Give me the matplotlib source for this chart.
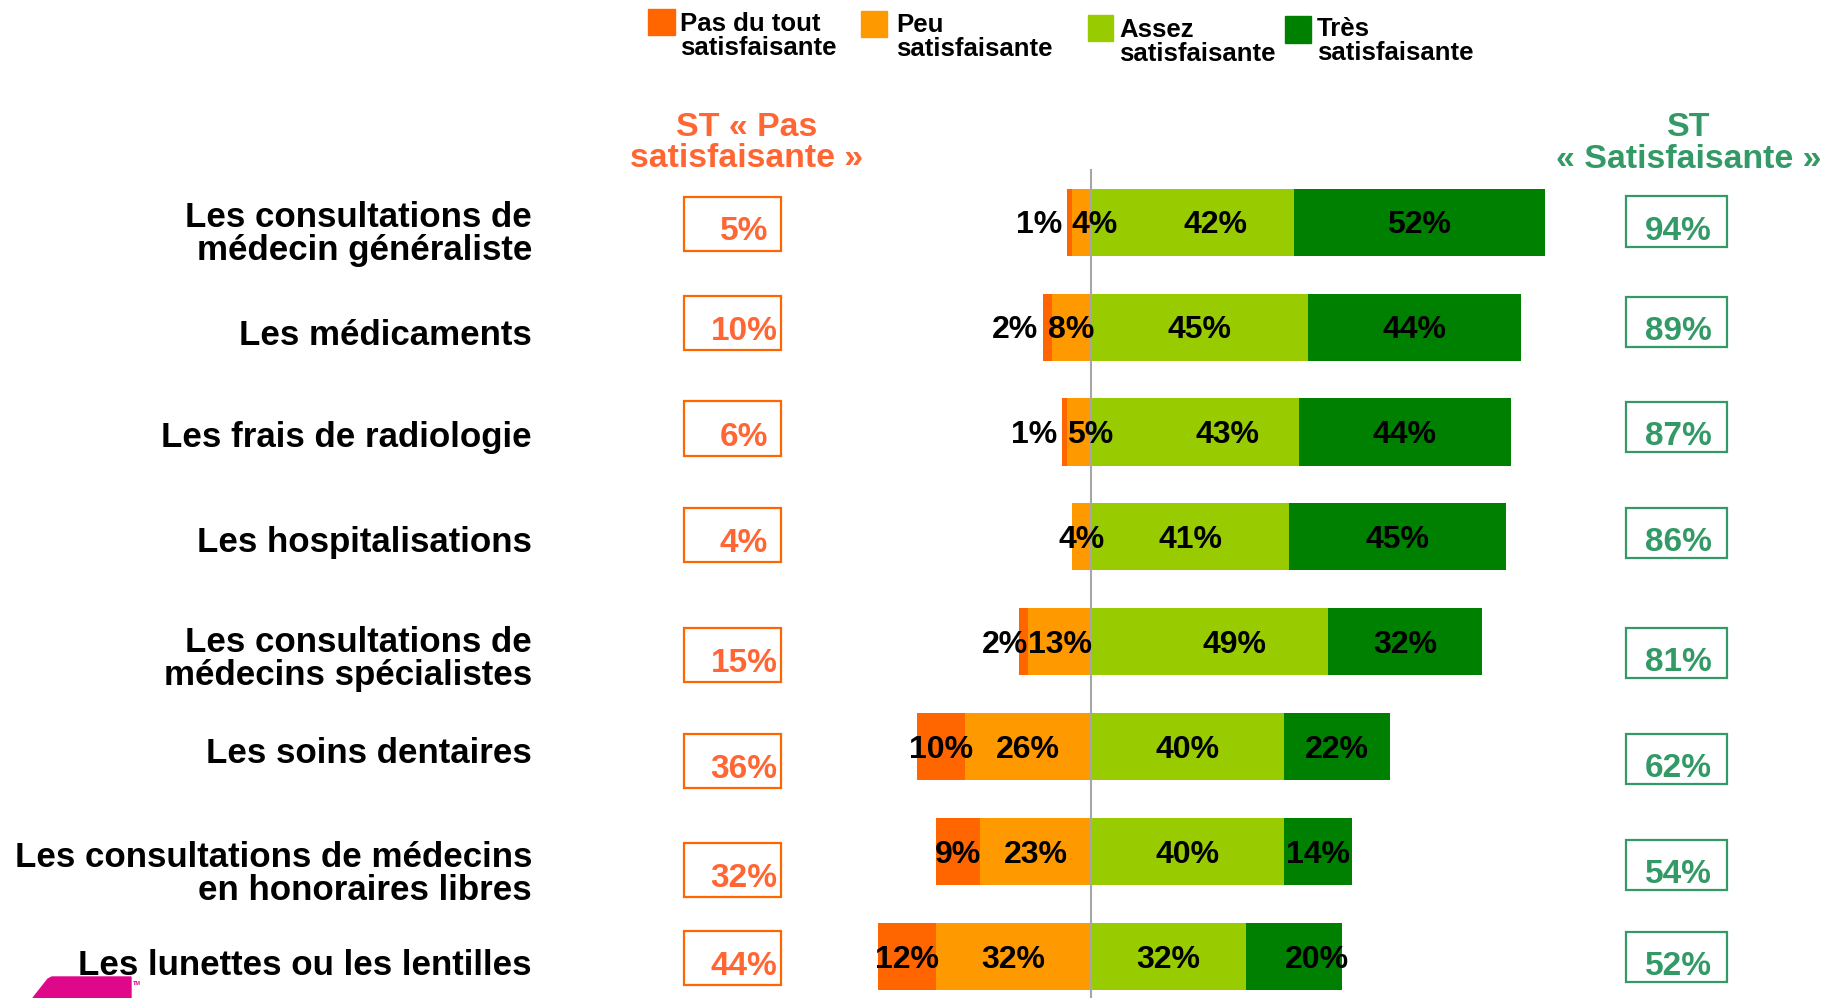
import numpy as np
import matplotlib
matplotlib.use("Agg")
import matplotlib.pyplot as plt
from matplotlib.patches import Rectangle, Polygon

plt.rcParams['font.family'] = ['Liberation Sans', 'DejaVu Sans']
plt.rcParams['font.weight'] = 'bold'

# data (percent)
categories = [
    ["Les consultations de", "médecin généraliste"],
    ["Les médicaments"],
    ["Les frais de radiologie"],
    ["Les hospitalisations"],
    ["Les consultations de", "médecins spécialistes"],
    ["Les soins dentaires"],
    ["Les consultations de médecins", "en honoraires libres"],
    ["Les lunettes ou les lentilles"],
]
pas_du_tout = [1, 2, 1, 0, 2, 10, 9, 12]
peu = [4, 8, 5, 4, 13, 26, 23, 32]
assez = [42, 45, 43, 41, 49, 40, 40, 32]
tres = [52, 44, 44, 45, 32, 22, 14, 20]
st_pas = [5, 10, 6, 4, 15, 36, 32, 44]
st_satis = [94, 89, 87, 86, 81, 62, 54, 52]
legend_labels = [["Pas du tout", "satisfaisante"], ["Peu", "satisfaisante"],
                 ["Assez", "satisfaisante"], ["Très", "satisfaisante"]]

colors = ['#FF6600', '#FF9900', '#99CC00', '#008000']
ORANGE_TXT = '#FF6633'
GREEN_TXT = '#339966'

# layout (pixels from top-left of the 1834x998 image)
W, H = 1834, 998
ZERO_PX = 1091
PX_PER_PCT = 4.83
ROW0_PX = 222.2
ROW_STEP = 104.9
label_base = [227, 345, 447, 552, 652, 763, 867, 975]
box_left_y = [223.5, 323, 428.5, 534.5, 655, 761, 870, 958]
box_right_y = [221.5, 322, 427, 533, 653, 759, 865, 957]
# label nudges in px, as placed in the original (collision avoidance)
shift_dark = [0, 0, 0, 0, 14, 0, 0, 0]
shift_assez = [23, 0, 33, 0, 25, 0, 0, 0]
shift_tres = [0, 0, 0, 0, 0, 0, 0, 23]


def dx(px):
    return (px - ZERO_PX) / PX_PER_PCT


def dy(py):
    return (py - ROW0_PX) / ROW_STEP


def fx(px):
    return px / W


def fy(py):
    return 1 - py / H


fig = plt.figure(figsize=(W / 100, H / 100), dpi=100)
ax = fig.add_axes([0, 0, 1, 1])
ax.set_xlim(dx(0), dx(W))
ax.set_ylim(dy(H), dy(0))
ax.axis('off')

rows = np.arange(len(categories))
d = np.array(pas_du_tout)
o = np.array(peu)
a = np.array(assez)
t = np.array(tres)
bh = 0.64

ax.barh(rows, d, left=-(d + o), height=bh, color=colors[0], zorder=2)
ax.barh(rows, o, left=-o, height=bh, color=colors[1], zorder=2)
ax.barh(rows, a, left=0, height=bh, color=colors[2], zorder=2)
ax.barh(rows, t, left=a, height=bh, color=colors[3], zorder=2)

# zero line
ax.plot([0, 0], [dy(170), dy(H)], color='#A6A6A6', lw=1.5, zorder=3)

# value labels inside bars
lab_kw = dict(fontsize=23, color='black', va='center', zorder=4)
ppx = 1 / PX_PER_PCT
for i in rows:
    yl = i + 3 / ROW_STEP
    if d[i] > 0:
        if d[i] <= 2:
            ax.text(-(d[i] + o[i]) - 1.0 + shift_dark[i] * ppx, yl, f"{d[i]}%", ha='right', **lab_kw)
        else:
            ax.text(-(o[i] + d[i] / 2), yl, f"{d[i]}%", ha='center', **lab_kw)
    if o[i] <= 5 and d[i] > 0:
        ax.text(-o[i], yl, f"{o[i]}%", ha='left', **lab_kw)
    else:
        ax.text(-o[i] / 2, yl, f"{o[i]}%", ha='center', **lab_kw)
    ax.text(a[i] / 2 + shift_assez[i] * ppx, yl, f"{a[i]}%", ha='center', **lab_kw)
    ax.text(a[i] + t[i] / 2 + shift_tres[i] * ppx, yl, f"{t[i]}%", ha='center', **lab_kw)

# category labels
for i, lines in enumerate(categories):
    for k, line in enumerate(lines):
        fig.text(fx(532), fy(label_base[i] + 33 * k), line, ha='right',
                 va='baseline', fontsize=25.1, color='black')

# summary boxes
for i in rows:
    yc = box_left_y[i]
    fig.patches.append(Rectangle((fx(684), fy(yc + 27)), (781 - 684) / W, 54 / H,
                                 transform=fig.transFigure, fill=False,
                                 edgecolor='#FF6600', lw=1.6))
    fig.text(fx(744), fy(yc + 17), f"{st_pas[i]}%", ha='center', va='baseline',
             fontsize=24, color=ORANGE_TXT)
    yc = box_right_y[i]
    fig.patches.append(Rectangle((fx(1626), fy(yc + 25)), (1727 - 1626) / W, 50 / H,
                                 transform=fig.transFigure, fill=False,
                                 edgecolor=GREEN_TXT, lw=1.6))
    fig.text(fx(1678), fy(yc + 18), f"{st_satis[i]}%", ha='center', va='baseline',
             fontsize=24, color=GREEN_TXT)

# column headers
fig.text(fx(747), fy(136), "ST « Pas", ha='center', va='baseline', fontsize=24.4, color=ORANGE_TXT)
fig.text(fx(747), fy(167), "satisfaisante »", ha='center', va='baseline', fontsize=24.4, color=ORANGE_TXT)
fig.text(fx(1689), fy(136), "ST", ha='center', va='baseline', fontsize=24.4, color=GREEN_TXT)
fig.text(fx(1689), fy(168), "« Satisfaisante »", ha='center', va='baseline', fontsize=24.4, color=GREEN_TXT)

# legend
leg_sq = [(648, 9, 675, 35), (861, 11, 887, 37), (1088, 15, 1113, 41), (1285, 16, 1311, 43)]
leg_tx = [(680, 31), (896, 32), (1119, 37), (1317, 36)]
for j, lines in enumerate(legend_labels):
    x0, y0, x1, y1 = leg_sq[j]
    fig.patches.append(Rectangle((fx(x0), fy(y1)), (x1 - x0) / W, (y1 - y0) / H,
                                 transform=fig.transFigure, color=colors[j]))
    tx, ty = leg_tx[j]
    for k, line in enumerate(lines):
        fig.text(fx(tx), fy(ty + 24 * k), line, ha='left', va='baseline',
                 fontsize=18.5, color='black')

# logo fragment bottom-left
pts = [(33, 998), (48, 979), (52, 977), (131, 977), (131, 998)]
fig.patches.append(Polygon([(fx(px), fy(py)) for px, py in pts], closed=True,
                           transform=fig.transFigure, color='#E0088A'))
fig.text(fx(133), fy(985), "TM", fontsize=4, color='#E0088A', ha='left', va='baseline')

fig.savefig("out.png", dpi=100, facecolor='white')
